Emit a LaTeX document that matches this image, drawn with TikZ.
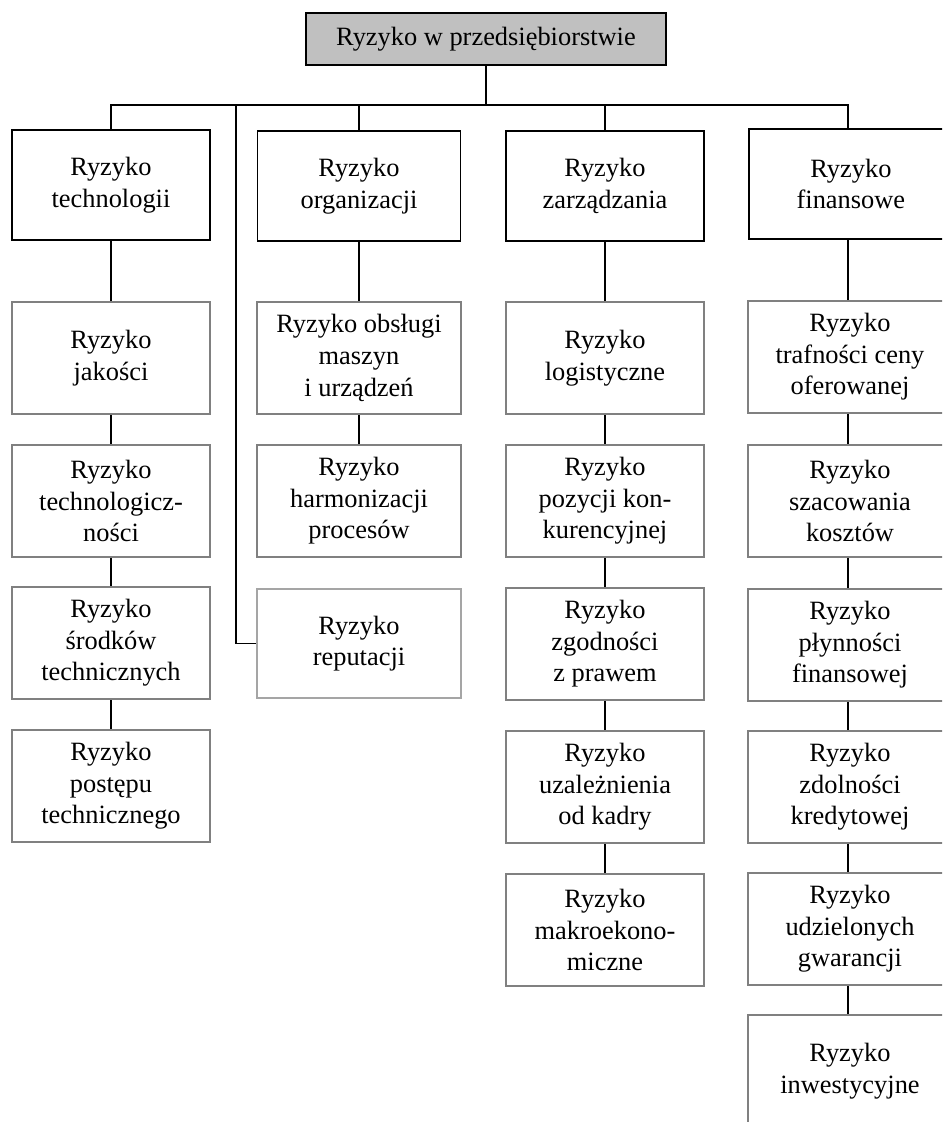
\documentclass[tikz,border=0pt]{standalone}
\usepackage{fontspec}
\setmainfont{Liberation Serif}
\usepackage{xcolor}
\usepackage{tikz}
\definecolor{topfill}{RGB}{192,192,192}
\definecolor{boxedge}{RGB}{128,128,128}
\definecolor{repedge}{RGB}{165,165,165}

\begin{document}
\begin{tikzpicture}[x=0.5pt,y=-0.5pt,font=\fontsize{13.2}{15.8}\selectfont,
    conn/.style={line width=0.8pt},
    mainbox/.style={draw,line width=0.9pt,align=center,minimum width=99pt,minimum height=55pt,inner sep=2pt},
    subbox/.style={draw=boxedge,line width=1pt,align=center,minimum width=99pt,minimum height=56pt,inner sep=2pt},
    widebox/.style={subbox,minimum width=102pt},
    finbox/.style={subbox,minimum width=102pt}]
  \useasboundingbox (0,0) rectangle (942,1122);
  \clip (0,0) rectangle (942,1122);
  % top of the tree
  \node[draw,fill=topfill,line width=0.9pt,minimum width=180pt,minimum height=26pt] (top) at (486,39) {Ryzyko w przedsiębiorstwie};
  \coordinate (bus) at (486,105);
  \coordinate (repbus) at (236,105);
  % main groups
  \node[mainbox] (tech) at (111,185) {Ryzyko\\technologii};
  \node[mainbox,minimum width=101.5pt] (org) at (359,186) {Ryzyko\\organizacji};
  \node[mainbox] (zarz) at (605,186) {Ryzyko\\zarządzania};
  \node[mainbox,minimum width=102pt,anchor=west] (fin) at (748,184) {\hspace*{0pt}Ryzyko\\finansowe};
  % technology column
  \node[subbox] (jak) at (111,358) {Ryzyko\\jakości};
  \node[subbox] (tlg) at (111,501) {Ryzyko\\technologicz-\\ności};
  \node[subbox] (srod) at (111,643) {Ryzyko\\środków\\technicznych};
  \node[subbox] (post) at (111,786) {Ryzyko\\postępu\\technicznego};
  % organisation column
  \node[widebox] (obs) at (359,358) {Ryzyko obsługi\\maszyn\\i urządzeń};
  \node[widebox] (harm) at (359,501) {Ryzyko\\harmonizacji\\procesów};
  \node[widebox,draw=repedge,minimum height=54.5pt] (rep) at (359,643.5) {Ryzyko\\reputacji};
  % management column
  \node[subbox] (log) at (605,358) {Ryzyko\\logistyczne};
  \node[subbox] (poz) at (605,501) {Ryzyko\\pozycji kon-\\kurencyjnej};
  \node[subbox] (zgod) at (605,644) {Ryzyko\\zgodności\\z prawem};
  \node[subbox] (uzal) at (605,787) {Ryzyko\\uzależnienia\\od kadry};
  \node[subbox] (makro) at (605,930) {Ryzyko\\makroekono-\\miczne};
  % finance column
  \node[finbox] (traf) at (850,357) {Ryzyko\\trafności ceny\\oferowanej};
  \node[finbox] (szac) at (850,501) {Ryzyko\\szacowania\\kosztów};
  \node[finbox] (plyn) at (850,645) {Ryzyko\\płynności\\finansowej};
  \node[finbox] (zdol) at (850,787) {Ryzyko\\zdolności\\kredytowej};
  \node[finbox] (udz) at (850,929) {Ryzyko\\udzielonych\\gwarancji};
  \node[finbox] (inw) at (850,1071) {Ryzyko\\inwestycyjne};
  \coordinate (finstem) at (848,105);
  % connectors
  \draw[conn] (top.south) -- (top.south |- bus);
  \draw[conn] (tech.north) -- (tech.north |- bus) -- (finstem) -- (finstem |- fin.north);
  \draw[conn] (org.north) -- (org.north |- bus);
  \draw[conn] (zarz.north) -- (zarz.north |- bus);
  \draw[conn] (repbus) |- (rep.west);
  \draw[conn] (tech) -- (jak) (jak) -- (tlg) (tlg) -- (srod) (srod) -- (post);
  \draw[conn] (org) -- (obs) (obs) -- (harm);
  \draw[conn] (zarz) -- (log) (log) -- (poz) (poz) -- (zgod) (zgod) -- (uzal) (uzal) -- (makro);
  \draw[conn] (finstem |- fin.south) -- (finstem |- traf.north);
  \draw[conn] (finstem |- traf.south) -- (finstem |- szac.north);
  \draw[conn] (finstem |- szac.south) -- (finstem |- plyn.north);
  \draw[conn] (finstem |- plyn.south) -- (finstem |- zdol.north);
  \draw[conn] (finstem |- zdol.south) -- (finstem |- udz.north);
  \draw[conn] (finstem |- udz.south) -- (finstem |- inw.north);
\end{tikzpicture}
\end{document}
